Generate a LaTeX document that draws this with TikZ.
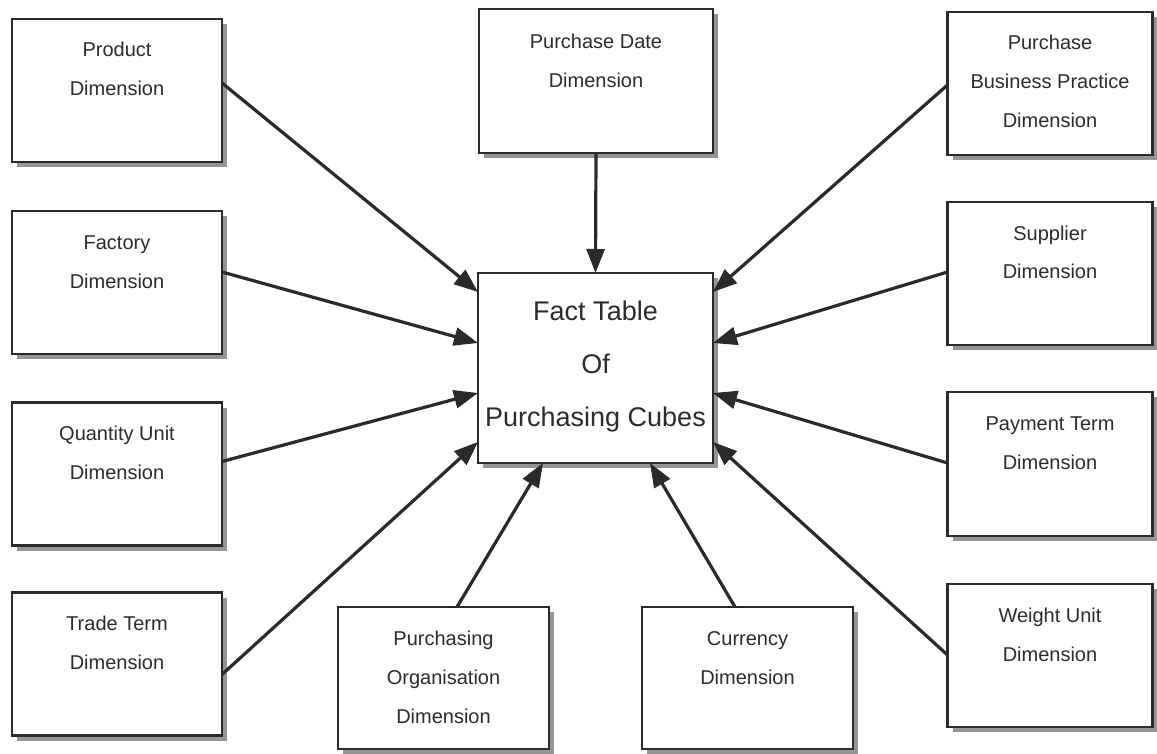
\documentclass[tikz,border=0pt]{standalone}
\usepackage{fontspec}
\setmainfont{Liberation Sans}
\usetikzlibrary{arrows.meta,shadows}

\definecolor{ink}{HTML}{2A2A2A}
\definecolor{txt}{HTML}{2C2C2C}
\definecolor{shade}{HTML}{959595}

% box content: width, height, first-baseline drop, lines
\newcommand{\boxtext}[4]{\parbox[c][#2pt][t]{#1pt}{\centering\rule{0pt}{#3pt}#4}}

\tikzset{
  dimbox/.style={draw=ink, line width=2.6pt, fill=white, inner sep=0pt, outer sep=0pt,
    text=txt, font=\fontsize{20}{39}\selectfont,
    drop shadow={shadow xshift=5pt, shadow yshift=-5pt, fill=shade, opacity=1}},
  hubbox/.style={dimbox, font=\fontsize{27}{53}\selectfont},
  link/.style={draw=ink, line width=3.2pt, -{Triangle[length=24pt,width=18pt]}}
}

\begin{document}
\begin{tikzpicture}[x=1pt,y=-1pt]
  \fill[white] (0,0) rectangle (1157,754);
  \useasboundingbox (0,0) rectangle (1157,754);

  % central fact table
  \node[hubbox] (hub) at (595.5,368) {\boxtext{235}{190}{47}{Fact Table\\Of\\Purchasing Cubes}};

  % left column
  \node[dimbox] (prod)    at (117,90.5)  {\boxtext{210}{143}{38}{Product\\Dimension}};
  \node[dimbox] (factory) at (117,282.5) {\boxtext{210}{143}{38}{Factory\\Dimension}};
  \node[dimbox] (qty)     at (117,474)   {\boxtext{210}{143}{38}{Quantity Unit\\Dimension}};
  \node[dimbox] (trade)   at (117,664)   {\boxtext{210}{143}{38}{Trade Term\\Dimension}};

  % top
  \node[dimbox] (pdate)   at (596,81)    {\boxtext{234}{144}{40}{Purchase Date\\Dimension}};

  % right column
  \node[dimbox] (pbp)     at (1050,83.5) {\boxtext{205}{143}{38}{Purchase\\Business Practice\\Dimension}};
  \node[dimbox] (supp)    at (1050,273.5){\boxtext{205}{143}{38}{Supplier\\Dimension}};
  \node[dimbox] (pay)     at (1050,464)  {\boxtext{205}{144}{38}{Payment Term\\Dimension}};
  \node[dimbox] (weight)  at (1050,655.5){\boxtext{205}{143}{38}{Weight Unit\\Dimension}};

  % bottom
  \node[dimbox] (porg)    at (443.5,678) {\boxtext{211}{142}{38}{Purchasing\\Organisation\\Dimension}};
  \node[dimbox] (cur)     at (747.5,678) {\boxtext{211}{142}{38}{Currency\\Dimension}};

  % connectors into the fact table
  \draw[link] ([yshift=-64pt]prod.north east)    -- ([yshift=-19pt]hub.north west);
  \draw[link] ([yshift=-61pt]factory.north east) -- ([yshift=-70pt]hub.north west);
  \draw[link] ([yshift=-59pt]qty.north east)     -- ([yshift=-120pt]hub.north west);
  \draw[link] ([yshift=-82pt]trade.north east)   -- ([yshift=-169pt]hub.north west);

  \draw[link] (pdate.south) -- (hub.north);

  \draw[link] ([yshift=-73pt]pbp.north west)     -- ([yshift=-19pt]hub.north east);
  \draw[link] ([yshift=-70pt]supp.north west)    -- ([yshift=-70pt]hub.north east);
  \draw[link] ([yshift=-71pt]pay.north west)     -- ([yshift=-120pt]hub.north east);
  \draw[link] ([yshift=-71pt]weight.north west)  -- ([yshift=-169pt]hub.north east);

  \draw[link] ([xshift=119pt]porg.north west)    -- ([xshift=65pt]hub.south west);
  \draw[link] ([xshift=93pt]cur.north west)      -- ([xshift=172pt]hub.south west);
\end{tikzpicture}
\end{document}
